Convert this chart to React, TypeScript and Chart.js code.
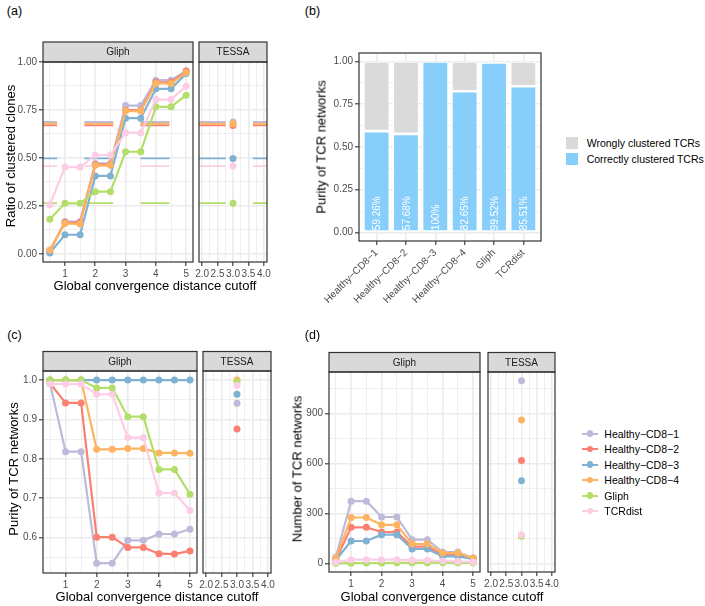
import React, { useEffect, useRef } from 'react';
import { Chart, registerables } from 'chart.js';

Chart.register(...registerables);

const FONT = "'Liberation Sans', Arial, Helvetica, sans-serif";
Chart.defaults.font.family = FONT;

// ---------------- data ----------------
const cutoffs = [0.5, 1, 1.5, 2, 2.5, 3, 3.5, 4, 4.5, 5];
const tessaCutoff = 3;
const facetNames = ['Gliph', 'TESSA'];
const seriesNames = ['Healthy−CD8−1', 'Healthy−CD8−2', 'Healthy−CD8−3', 'Healthy−CD8−4', 'Gliph', 'TCRdist'];
const seriesColors = ['#BEBADA', '#FB8072', '#80B1D3', '#FDB462', '#B3DE69', '#FCCDE5'];

// (a) ratio of clustered clones
const ratioCD8_1 = [0.016, 0.168, 0.168, 0.471, 0.471, 0.773, 0.773, 0.905, 0.905, 0.953];
const ratioCD8_2 = [0.016, 0.163, 0.163, 0.466, 0.466, 0.749, 0.749, 0.894, 0.894, 0.953];
const ratioCD8_3 = [0.004, 0.099, 0.099, 0.406, 0.406, 0.707, 0.707, 0.86, 0.86, 0.94];
const ratioCD8_4 = [0.02, 0.158, 0.155, 0.461, 0.461, 0.744, 0.744, 0.888, 0.888, 0.945];
const ratioGliph = [0.18, 0.263, 0.263, 0.324, 0.324, 0.532, 0.532, 0.766, 0.766, 0.827];
const ratioTCRdist = [0.255, 0.452, 0.452, 0.515, 0.515, 0.631, 0.631, 0.804, 0.804, 0.874];
const ratioTessa = [0.687, 0.669, 0.497, 0.678, 0.264, 0.457];

// (b) purity of TCR networks (stacked shares)
const shareCategories = ['Healthy−CD8−1', 'Healthy−CD8−2', 'Healthy−CD8−3', 'Healthy−CD8−4', 'Gliph', 'TCRdist'];
const correctShare = [0.5926, 0.5768, 1.0, 0.8265, 0.9952, 0.8551];
const wrongShare = [0.4074, 0.4232, 0.0, 0.1735, 0.0048, 0.1449];
const correctLabels = ['59.26%', '57.68%', '100%', '82.65%', '99.52%', '85.51%'];
const shareNames = ['Wrongly clustered TCRs', 'Correctly clustered TCRs'];
const shareColors = ['#DADADA', '#87CEFA'];

// (c) purity of TCR networks
const purityCD8_1 = [0.992, 0.818, 0.818, 0.535, 0.535, 0.593, 0.593, 0.609, 0.609, 0.621];
const purityCD8_2 = [0.992, 0.942, 0.942, 0.601, 0.601, 0.575, 0.575, 0.559, 0.558, 0.566];
const purityCD8_3 = [1, 1, 1, 1, 1, 1, 1, 1, 1, 1];
const purityCD8_4 = [1, 1, 1, 0.824, 0.824, 0.826, 0.826, 0.815, 0.815, 0.814];
const purityGliph = [1, 1, 1, 0.98, 0.98, 0.907, 0.907, 0.773, 0.773, 0.71];
const purityTCRdist = [0.99, 0.99, 0.99, 0.964, 0.964, 0.854, 0.854, 0.713, 0.713, 0.669];
const purityTessa = [0.941, 0.876, 0.964, 1.0, 0.996, 0.987];

// (d) number of TCR networks
const countCD8_1 = [40, 375, 375, 280, 280, 144, 144, 70, 70, 34];
const countCD8_2 = [24, 218, 218, 190, 190, 102, 102, 54, 54, 32];
const countCD8_3 = [22, 136, 136, 174, 174, 88, 88, 44, 44, 28];
const countCD8_4 = [32, 277, 277, 233, 233, 118, 118, 64, 64, 34];
const countGliph = [2, 3, 4, 4, 5, 5, 6, 6, 5, 5];
const countTCRdist = [8, 24, 24, 24, 24, 20, 20, 16, 14, 10];
const countTessa = [1098, 619, 497, 862, 164, 174];

// ticks
const cutoffMajor = [1, 2, 3, 4, 5];
const cutoffMinor = [0.5, 1.5, 2.5, 3.5, 4.5];
const tessaMajor = [2, 2.5, 3, 3.5, 4];
const tessaMinor = [2.25, 2.75, 3.25, 3.75];
const ratioMajor = [0, 0.25, 0.5, 0.75, 1];
const ratioMinor = [0.125, 0.375, 0.625, 0.875];
const purityMajor = [0.6, 0.7, 0.8, 0.9, 1.0];
const purityMinor = [0.55, 0.65, 0.75, 0.85, 0.95];
const countMajor = [0, 300, 600, 900];
const countMinor = [150, 450, 750, 1050];
const categoryTicks = [1, 2, 3, 4, 5, 6];

const TICK_FONT = 10;

// ---------------- plugins ----------------
const facetPlugin = {
  id: 'facetDecor',
  afterDraw(chart: any, _args: any, opts: any) {
    const { ctx, chartArea: a } = chart;
    if (!a) return;
    ctx.save();
    if (opts && opts.strip) {
      const h = opts.stripHeight || 20;
      ctx.fillStyle = '#D9D9D9';
      ctx.fillRect(a.left, a.top - h, a.right - a.left, h);
      ctx.lineWidth = 1.2;
      ctx.strokeStyle = '#333333';
      ctx.strokeRect(a.left, a.top - h, a.right - a.left, h);
      ctx.fillStyle = '#1A1A1A';
      ctx.font = `10px ${FONT}`;
      ctx.textAlign = 'center';
      ctx.textBaseline = 'middle';
      ctx.fillText(opts.strip, (a.left + a.right) / 2, a.top - h / 2 + 0.5);
    }
    ctx.lineWidth = 1.2;
    ctx.strokeStyle = '#333333';
    ctx.strokeRect(a.left, a.top, a.right - a.left, a.bottom - a.top);
    ctx.restore();
  },
};

const barLabelPlugin = {
  id: 'barLabels',
  afterDatasetsDraw(chart: any, _args: any, opts: any) {
    if (!opts || !opts.labels) return;
    const meta = chart.getDatasetMeta(opts.datasetIndex);
    const ctx = chart.ctx;
    meta.data.forEach((el: any, i: number) => {
      const p = el.getProps(['x', 'base'], true);
      ctx.save();
      ctx.translate(p.x + 1, p.base - 1.5);
      ctx.rotate(-Math.PI / 2);
      ctx.fillStyle = '#FFFFFF';
      ctx.font = `10px ${FONT}`;
      ctx.textAlign = 'left';
      ctx.textBaseline = 'middle';
      ctx.fillText(opts.labels[i], 0, 0);
      ctx.restore();
    });
  },
};

Chart.register(facetPlugin as any, barLabelPlugin as any);

// ---------------- helpers ----------------
function axis(o: {
  min: number;
  max: number;
  major: number[];
  minor: number[];
  labels: boolean;
  fmt: (v: number) => string;
  vertical: boolean;
  size: number;
  rotation?: number;
  stacked?: boolean;
}) {
  const all = [...o.major, ...o.minor].sort((a, b) => a - b);
  const isMajor = (v: number) => o.major.some((m) => Math.abs(m - v) < 1e-9);
  const rot = o.rotation ?? 0;
  return {
    type: 'linear',
    min: o.min,
    max: o.max,
    bounds: 'data',
    offset: false,
    stacked: o.stacked ?? false,
    afterBuildTicks: (s: any) => {
      s.ticks = all.map((v) => ({ value: v }));
    },
    afterFit: (s: any) => {
      if (o.vertical) s.width = o.size;
      else s.height = o.size;
    },
    ticks: {
      display: o.labels,
      autoSkip: false,
      minRotation: rot,
      maxRotation: rot,
      padding: 2,
      color: '#4D4D4D',
      font: { size: TICK_FONT, family: FONT },
      callback: (v: number) => (isMajor(v) ? o.fmt(v) : ''),
    },
    grid: {
      display: true,
      offset: false,
      drawOnChartArea: true,
      drawTicks: o.labels,
      tickLength: 4,
      color: '#EBEBEB',
      lineWidth: (c: any) => (c.tick && isMajor(c.tick.value) ? 1.6 : 0.8),
      tickColor: (c: any) => (c.tick && isMajor(c.tick.value) ? '#333333' : 'rgba(0,0,0,0)'),
      tickWidth: 1.1,
    },
    border: { display: false },
  };
}

function seriesLines(xs: number[], sets: number[][]) {
  return sets.map((vals, i) => ({
    type: 'line',
    label: seriesNames[i],
    data: xs.map((x, j) => ({ x, y: vals[j] })),
    borderColor: seriesColors[i],
    backgroundColor: seriesColors[i],
    pointBackgroundColor: seriesColors[i],
    pointBorderWidth: 0,
    pointRadius: 3.5,
    borderWidth: 2.2,
    tension: 0,
    showLine: true,
    order: 10 - i,
  }));
}

function seriesPoints(x: number, vals: number[]) {
  return vals.map((v, i) => ({
    type: 'line',
    label: seriesNames[i],
    data: [{ x, y: v }],
    borderColor: seriesColors[i],
    backgroundColor: seriesColors[i],
    pointBackgroundColor: seriesColors[i],
    pointBorderWidth: 0,
    pointRadius: 3.5,
    showLine: false,
    order: 10 - i,
  }));
}

function referenceLines(xMin: number, xMax: number, vals: number[], dashOffset: number) {
  return vals.map((v, i) => ({
    type: 'line',
    label: seriesNames[i] + ' TESSA',
    data: [
      { x: xMin, y: v },
      { x: xMax, y: v },
    ],
    borderColor: seriesColors[i],
    borderWidth: 1.8,
    borderDash: [29, 27.2],
    borderDashOffset: dashOffset,
    pointRadius: 0,
    tension: 0,
    showLine: true,
    order: 30 - i,
  }));
}

function lineConfig(datasets: any[], x: any, y: any, strip: string, stripHeight: number) {
  return {
    type: 'line',
    data: { datasets },
    options: {
      scales: { x, y },
      plugins: {
        legend: { display: false },
        tooltip: { enabled: false },
        facetDecor: { strip, stripHeight },
      },
    },
  };
}

type BoxProps = {
  L: number;
  T: number;
  R: number;
  B: number;
  padL: number;
  padR: number;
  padT: number;
  padB: number;
  yW: number;
  xH: number;
  make: () => any;
};

function ChartBox(p: BoxProps) {
  const ref = useRef<HTMLCanvasElement | null>(null);
  const W = Math.round(p.R - p.L + p.padL + p.yW + p.padR);
  const H = Math.round(p.B - p.T + p.padT + p.xH + p.padB);
  useEffect(() => {
    if (!ref.current) return;
    const cfg = p.make();
    cfg.options = {
      ...cfg.options,
      responsive: false,
      maintainAspectRatio: false,
      animation: false,
      devicePixelRatio: 1,
      events: [],
      layout: { padding: { left: p.padL, right: p.padR, top: p.padT, bottom: p.padB } },
    };
    const chart = new Chart(ref.current, cfg);
    return () => chart.destroy();
  }, []);
  return (
    <canvas
      ref={ref}
      width={W}
      height={H}
      style={{ position: 'absolute', left: p.L - p.padL - p.yW, top: p.T - p.padT, width: W, height: H, display: 'block' }}
    />
  );
}

function Text(p: { x: number; y: number; text: string; size?: number; rotate?: boolean; color?: string; anchor?: 'center' | 'left' }) {
  const anchorX = p.anchor === 'left' ? '0' : '-50%';
  return (
    <div
      style={{
        position: 'absolute',
        left: p.x,
        top: p.y,
        transform: `translate(${anchorX}, -50%)${p.rotate ? ' rotate(-90deg)' : ''}`,
        transformOrigin: p.rotate ? 'center center' : undefined,
        whiteSpace: 'nowrap',
        fontSize: p.size ?? 13,
        lineHeight: 1,
        color: p.color ?? '#000000',
        fontFamily: FONT,
      }}
    >
      {p.text}
    </div>
  );
}

const fmt2 = (v: number) => v.toFixed(2);
const fmt1 = (v: number) => v.toFixed(1);
const fmt0 = (v: number) => String(Math.round(v));

const G_X = [0.275, 5.225];
const T_X = [1.9, 4.1];

function GliphTessa(p: {
  top: number;
  bottom: number;
  gL: number;
  gR: number;
  tL: number;
  tR: number;
  stripH: number;
  yRange: number[];
  yMajor: number[];
  yMinor: number[];
  yFmt: (v: number) => string;
  gliphSets: number[][];
  tessa: number[];
  hlines?: boolean;
}) {
  const common = { T: p.top, B: p.bottom, padT: 24, padB: 2, xH: 22 };
  const yAxis = (labels: boolean) =>
    axis({ min: p.yRange[0], max: p.yRange[1], major: p.yMajor, minor: p.yMinor, labels, fmt: p.yFmt, vertical: true, size: labels ? 40 : 0 });
  const phase0 = 28.1;
  const period = 56.2;
  const gOffset = (((p.gL - phase0) % period) + period) % period;
  const tOffset = (((p.tL - phase0) % period) + period) % period;
  return (
    <>
      <ChartBox
        {...common}
        L={p.gL}
        R={p.gR}
        padL={5}
        padR={8}
        yW={40}
        make={() =>
          lineConfig(
            [
              ...seriesLines(cutoffs, p.gliphSets),
              ...(p.hlines ? referenceLines(G_X[0], G_X[1], p.tessa, gOffset) : []),
            ],
            axis({ min: G_X[0], max: G_X[1], major: cutoffMajor, minor: cutoffMinor, labels: true, fmt: fmt0, vertical: false, size: 22 }),
            yAxis(true),
            facetNames[0],
            p.stripH
          )
        }
      />
      <ChartBox
        {...common}
        L={p.tL}
        R={p.tR}
        padL={14}
        padR={14}
        yW={0}
        make={() =>
          lineConfig(
            [
              ...seriesPoints(tessaCutoff, p.tessa),
              ...(p.hlines ? referenceLines(T_X[0], T_X[1], p.tessa, tOffset) : []),
            ],
            axis({ min: T_X[0], max: T_X[1], major: tessaMajor, minor: tessaMinor, labels: true, fmt: fmt1, vertical: false, size: 22 }),
            yAxis(false),
            facetNames[1],
            p.stripH
          )
        }
      />
    </>
  );
}

function ShareChart() {
  return (
    <ChartBox
      L={359}
      R={541}
      T={53}
      B={241}
      padL={5}
      padR={14}
      padT={12}
      padB={0}
      yW={40}
      xH={62}
      make={() => ({
        type: 'bar',
        data: {
          datasets: [
            {
              label: shareNames[1],
              data: categoryTicks.map((x, i) => ({ x, y: correctShare[i] })),
              backgroundColor: shareColors[1],
              borderColor: '#FFFFFF',
              borderWidth: 1.3,
              borderSkipped: false,
              barPercentage: 0.9,
              categoryPercentage: 1,
            },
            {
              label: shareNames[0],
              data: categoryTicks.map((x, i) => ({ x, y: wrongShare[i] })),
              backgroundColor: shareColors[0],
              borderColor: '#FFFFFF',
              borderWidth: 1.3,
              borderSkipped: false,
              barPercentage: 0.9,
              categoryPercentage: 1,
            },
          ],
        },
        options: {
          scales: {
            x: axis({
              min: 0.4,
              max: 6.6,
              major: categoryTicks,
              minor: [],
              labels: true,
              fmt: (v) => shareCategories[Math.round(v) - 1] ?? '',
              vertical: false,
              size: 62,
              rotation: 45,
              stacked: true,
            }),
            y: axis({ min: -0.05, max: 1.05, major: ratioMajor, minor: ratioMinor, labels: true, fmt: fmt2, vertical: true, size: 40, stacked: true }),
          },
          plugins: {
            legend: { display: false },
            tooltip: { enabled: false },
            barLabels: { labels: correctLabels, datasetIndex: 0 },
          },
        },
      })}
    />
  );
}

export default function App() {
  const legendRows = [433.5, 449, 464.5, 480, 495.5, 511];
  return (
    <div
      style={{
        position: 'absolute',
        left: 0,
        top: 0,
        width: 705,
        height: 606,
        background: '#FFFFFF',
        overflow: 'hidden',
        fontFamily: FONT,
      }}
    >
      {/* (a) */}
      <GliphTessa
        top={62}
        bottom={262}
        gL={43}
        gR={193}
        tL={199}
        tR={267}
        stripH={20}
        yRange={[-0.043, 1.0]}
        yMajor={ratioMajor}
        yMinor={ratioMinor}
        yFmt={fmt2}
        gliphSets={[ratioCD8_1, ratioCD8_2, ratioCD8_3, ratioCD8_4, ratioGliph, ratioTCRdist]}
        tessa={ratioTessa}
        hlines
      />
      {/* (c) */}
      <GliphTessa
        top={371}
        bottom={573}
        gL={43}
        gR={197}
        tL={203}
        tR={271}
        stripH={19.5}
        yRange={[0.51, 1.023]}
        yMajor={purityMajor}
        yMinor={purityMinor}
        yFmt={fmt1}
        gliphSets={[purityCD8_1, purityCD8_2, purityCD8_3, purityCD8_4, purityGliph, purityTCRdist]}
        tessa={purityTessa}
      />
      {/* (d) */}
      <GliphTessa
        top={372}
        bottom={572}
        gL={329}
        gR={480}
        tL={488}
        tR={555}
        stripH={19.5}
        yRange={[-50, 1150]}
        yMajor={countMajor}
        yMinor={countMinor}
        yFmt={fmt0}
        gliphSets={[countCD8_1, countCD8_2, countCD8_3, countCD8_4, countGliph, countTCRdist]}
        tessa={countTessa}
      />
      {/* (b) */}
      <ShareChart />

      {/* panel letters */}
      <Text x={14.5} y={10.5} text="(a)" size={12.5} />
      <Text x={312.5} y={10.5} text="(b)" size={12.5} />
      <Text x={14.5} y={335} text="(c)" size={12.5} />
      <Text x={312.5} y={335} text="(d)" size={12.5} />

      {/* axis titles */}
      <Text x={9.5} y={156} text="Ratio of clustered clones" rotate />
      <Text x={155} y={284.5} text="Global convergence distance cutoff" />
      <Text x={321} y={147} text="Purity of TCR networks" rotate />
      <Text x={13.3} y={469} text="Purity of TCR networks" rotate />
      <Text x={157} y={595.5} text="Global convergence distance cutoff" />
      <Text x={296.7} y={469} text="Number of TCR networks" rotate />
      <Text x={442} y={595.5} text="Global convergence distance cutoff" />

      {/* legend (b) */}
      {shareNames.map((n, i) => (
        <React.Fragment key={n}>
          <div style={{ position: 'absolute', left: 566, top: 137 + i * 16.3, width: 11.5, height: 12, background: shareColors[i] }} />
          <Text x={586.7} y={143 + i * 16.3} text={n} size={10.5} anchor="left" />
        </React.Fragment>
      ))}

      {/* legend (c)/(d) */}
      {seriesNames.map((n, i) => (
        <React.Fragment key={n}>
          <div style={{ position: 'absolute', left: 581.7, top: legendRows[i] - 1, width: 16.6, height: 2, background: seriesColors[i] }} />
          <div
            style={{
              position: 'absolute',
              left: 590 - 3.3,
              top: legendRows[i] - 3.3,
              width: 6.6,
              height: 6.6,
              borderRadius: '50%',
              background: seriesColors[i],
            }}
          />
          <Text x={604.3} y={legendRows[i]} text={n} size={10.5} anchor="left" />
        </React.Fragment>
      ))}
    </div>
  );
}
